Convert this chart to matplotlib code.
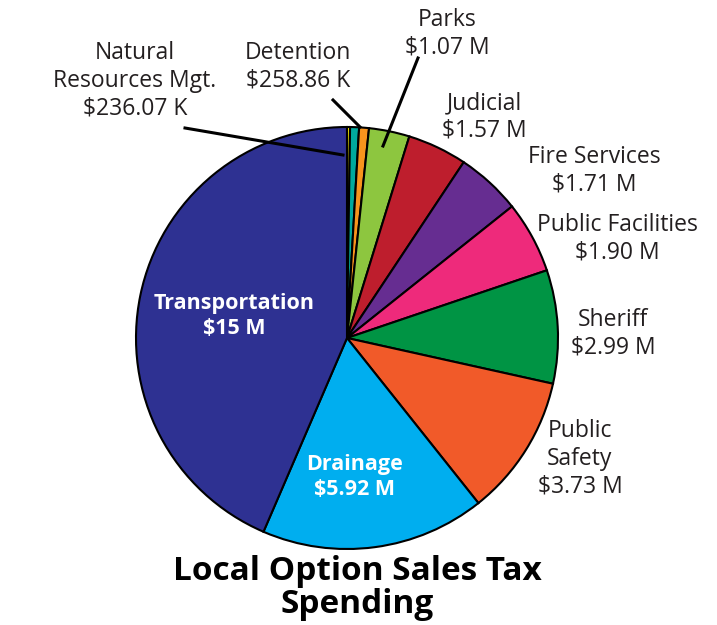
import matplotlib
matplotlib.use("Agg")
import matplotlib.pyplot as plt

plt.rcParams['font.family'] = ['Open Sans', 'DejaVu Sans']

# slices in clockwise order from the top
categories = ["Other", "Natural Resources Mgt.", "Detention", "Parks", "Judicial",
              "Fire Services", "Public Facilities", "Sheriff", "Public Safety",
              "Drainage", "Transportation"]
values = [0.08, 0.236, 0.259, 1.07, 1.57, 1.71, 1.90, 2.99, 3.73, 5.92, 15.0]
value_labels = ["", "$236.07 K", "$258.86 K", "$1.07 M", "$1.57 M", "$1.71 M",
                "$1.90 M", "$2.99 M", "$3.73 M", "$5.92 M", "$15 M"]
colors = ["#fff200", "#00a99d", "#f7941d", "#8dc63f", "#be1e2d", "#662d91",
          "#ee2a7b", "#009444", "#f15a29", "#00aeef", "#2e3192"]

W, H = 717, 625
fig = plt.figure(figsize=(W / 100, H / 100), dpi=100)
ax = fig.add_axes([0, 0, 1, 1])

cx, cy, r = 347, H - 338, 211
ax.pie(values, colors=colors, startangle=90, counterclock=False,
       center=(cx, cy), radius=r, frame=True,
       wedgeprops=dict(edgecolor='black', linewidth=1.5))
ax.set_xlim(0, W)
ax.set_ylim(0, H)
ax.set_aspect('equal')
ax.axis('off')

fs = 16.5
# outside labels (x, y in pixels from top)
outside = {
    "Natural Resources Mgt.": (135, 81, "Natural\nResources Mgt.\n"),
    "Detention": (298, 67, "Detention\n"),
    "Parks": (447, 34, "Parks\n"),
    "Judicial": (484, 117, "Judicial\n"),
    "Fire Services": (594, 171, "Fire Services\n"),
    "Public Facilities": (617, 239, "Public Facilities\n"),
    "Sheriff": (613, 334, "Sheriff\n"),
    "Public Safety": (580, 459, "Public\nSafety\n"),
}
for name, (x, y, txt) in outside.items():
    i = categories.index(name)
    ax.text(x, H - y, txt + value_labels[i], ha='center', va='center',
            fontsize=fs, color='#231f20', linespacing=1.22)

# leader lines
leaders = [((185, 128), (343, 155)), ((333, 100), (360, 127)), ((418, 58), (383, 146))]
for (x0, y0), (x1, y1) in leaders:
    ax.plot([x0, x1], [H - y0, H - y1], color='black', linewidth=2.2)

# inside labels
ax.text(234, H - 316, "Transportation\n" + value_labels[categories.index("Transportation")],
        ha='center', va='center', fontsize=15.5, color='white', fontweight='bold',
        linespacing=1.2)
ax.text(354, H - 477, "Drainage\n" + value_labels[categories.index("Drainage")],
        ha='center', va='center', fontsize=15.5, color='white', fontweight='bold',
        linespacing=1.2)

ax.text(357, H - 588, "Local Option Sales Tax\nSpending", ha='center', va='center',
        fontsize=24, fontweight='bold', color='black', linespacing=1.0)

fig.savefig("out.png", dpi=100)
